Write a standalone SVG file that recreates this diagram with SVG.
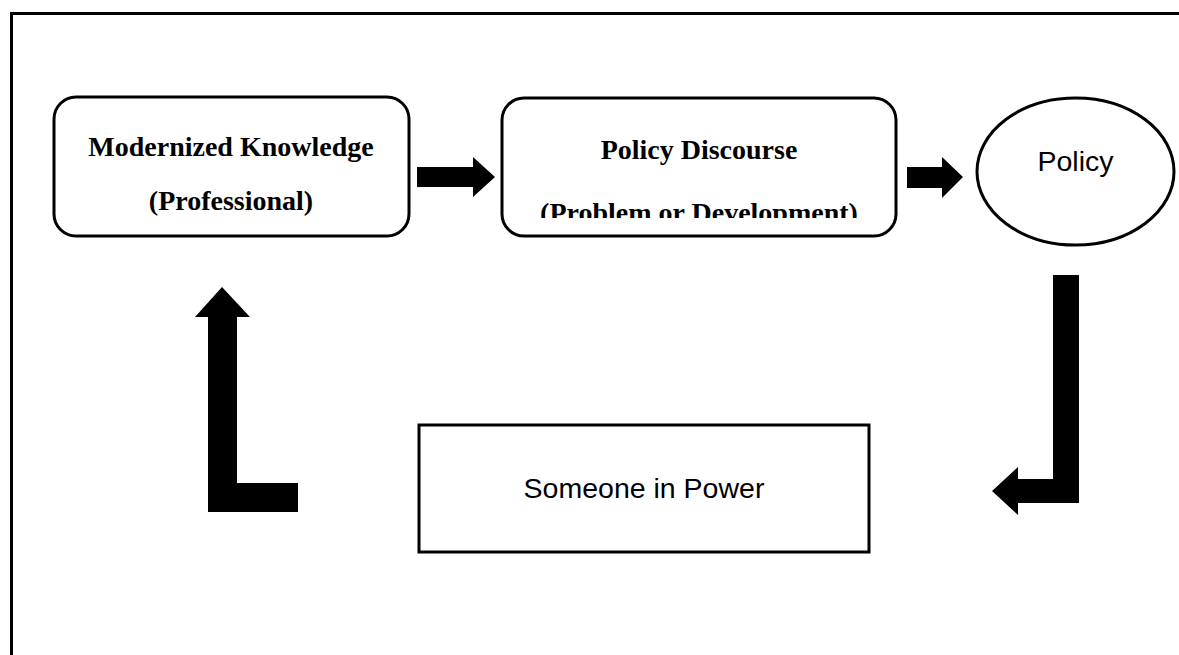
<svg xmlns="http://www.w3.org/2000/svg" width="1179" height="655" viewBox="0 0 1179 655">
<style>
.box{fill:#fff;stroke:#000;stroke-width:3}
.serif{font-family:"Liberation Serif","Times New Roman",serif;font-weight:bold;font-size:28px;fill:#000;text-anchor:middle}
.sans{font-family:"Liberation Sans",Arial,sans-serif;font-size:28.5px;fill:#000;text-anchor:middle}
.arrow{fill:#000;stroke:none}
</style>
<defs>
<clipPath id="clip2"><rect x="502" y="96" width="396" height="122"/></clipPath>
</defs>
<rect width="1179" height="655" fill="#fff"/>
<path d="M11.5,655 V13.5 H1179" fill="none" stroke="#000" stroke-width="3"/>
<g id="node-knowledge">
<rect class="box" x="54" y="97" width="355" height="139" rx="22"/>
<text class="serif" x="231" y="156">Modernized Knowledge</text>
<text class="serif" x="231" y="210">(Professional)</text>
</g>
<g id="node-discourse">
<rect class="box" x="502" y="98" width="394" height="138" rx="22"/>
<text class="serif" x="699" y="159">Policy Discourse</text>
<text class="serif" x="699" y="222" clip-path="url(#clip2)">(Problem or Development)</text>
</g>
<g id="node-policy">
<ellipse class="box" cx="1075.5" cy="171.5" rx="98.5" ry="73.5"/>
<text class="sans" x="1075.5" y="171" font-size="31">Policy</text>
</g>
<g id="node-power">
<rect class="box" x="419" y="425" width="450" height="127"/>
<text class="sans" x="644" y="498">Someone in Power</text>
</g>
<g id="connectors">
<polygon class="arrow" points="417,167 473,167 473,157 495,177 473,197 473,187 417,187"/>
<polygon class="arrow" points="907,167 942,167 942,157 963,177 942,198 942,188 907,188"/>
<polygon class="arrow" points="1053,275 1079,275 1079,503 1018,503 1018,515 992,491 1018,467 1018,479 1053,479"/>
<polygon class="arrow" points="298,512 208,512 208,317 195,317 222,287 250,317 237,317 237,483 298,483"/>
</g>
</svg>
